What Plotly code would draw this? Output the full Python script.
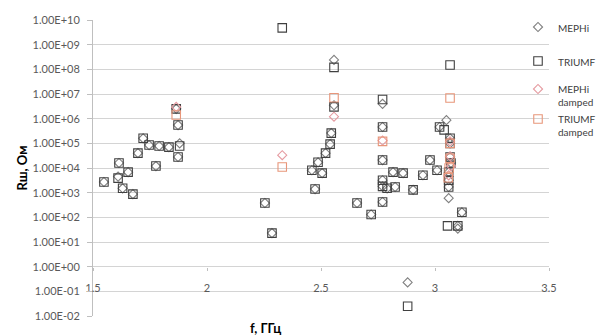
import plotly.graph_objects as go

# ---- data (f in GHz, R in Ohm) ----
mephi_f = [1.548, 1.61, 1.614, 1.63, 1.654, 1.675, 1.697, 1.72, 1.746, 1.776, 1.79, 1.833, 1.88, 1.873, 1.873, 1.865,
           2.254, 2.285, 2.46, 2.474, 2.487, 2.505, 2.52, 2.54, 2.545, 2.557, 2.557, 2.658, 2.72,
           2.77, 2.77, 2.77, 2.77, 2.77, 2.77, 2.79, 2.816, 2.825, 2.86, 2.88, 2.904, 2.947, 2.978, 3.009,
           3.02, 3.05, 3.066, 3.066, 3.066, 3.07, 3.06, 3.06, 3.06, 3.06, 3.1, 3.1, 3.118]
mephi_r = [2.7e3, 4.5e3, 1.6e4, 1.5e3, 6.8e3, 8.7e2, 4e4, 1.6e5, 8.5e4, 1.2e4, 7.8e4, 7e4, 1e5, 2.8e4, 5.5e5, 2.5e6,
           3.8e2, 2.3e1, 8.1e3, 1.4e3, 1.7e4, 6.2e3, 4e4, 9.3e4, 2.6e5, 2.4e8, 3.5e6, 3.8e2, 1.3e2,
           4e6, 4.6e5, 2.1e4, 3.2e3, 1.8e3, 4.2e2, 1.5e3, 6.8e3, 1.7e3, 6.2e3, 0.23, 1.3e3, 5.1e3, 2.1e4, 8.1e3,
           4.6e5, 8.7e5, 1.6e5, 1e5, 2.8e4, 1.6e4, 6.8e3, 3.2e3, 1.7e3, 6e2, 4.5e1, 3.5e1, 1.6e2]

triumf_f = [1.548, 1.61, 1.614, 1.63, 1.654, 1.675, 1.697, 1.72, 1.746, 1.776, 1.79, 1.833, 1.88, 1.873, 1.873, 1.865,
            2.254, 2.285, 2.33, 2.46, 2.474, 2.487, 2.505, 2.52, 2.54, 2.545, 2.557, 2.557, 2.658, 2.72,
            2.77, 2.77, 2.77, 2.77, 2.77, 2.77, 2.79, 2.816, 2.825, 2.86, 2.88, 2.904, 2.947, 2.978, 3.009,
            3.02, 3.04, 3.066, 3.066, 3.066, 3.066, 3.07, 3.06, 3.06, 3.06, 3.055, 3.1, 3.118]
triumf_r = [2.7e3, 3.9e3, 1.6e4, 1.5e3, 6.8e3, 8.7e2, 4e4, 1.6e5, 8.5e4, 1.2e4, 7.8e4, 7e4, 7.8e4, 2.8e4, 5.5e5, 2.5e6,
            3.8e2, 2.3e1, 4.8e9, 8.1e3, 1.4e3, 1.7e4, 6.2e3, 4e4, 9.3e4, 2.6e5, 1.2e8, 3e6, 3.8e2, 1.3e2,
            6e6, 4.6e5, 2.1e4, 3.2e3, 1.8e3, 4.2e2, 1.5e3, 6.8e3, 1.7e3, 6.2e3, 0.025, 1.3e3, 5.1e3, 2.1e4, 8.1e3,
            4.6e5, 3.5e5, 1.5e8, 1.6e5, 1e5, 2.8e4, 1.6e4, 6.8e3, 3.2e3, 1.7e3, 4.5e1, 4.5e1, 1.6e2]

mephi_damped_f = [1.865, 2.33, 2.557, 2.77, 3.066, 3.066, 3.07, 3.06]
mephi_damped_r = [3e6, 3.3e4, 1.2e6, 1.3e5, 1.2e5, 3e4, 1.2e4, 5e3]

triumf_damped_f = [1.865, 2.33, 2.557, 2.77, 3.066, 3.066, 3.066, 3.062, 3.058]
triumf_damped_r = [1.4e6, 1.1e4, 7e6, 1.2e5, 6.9e6, 1e5, 2.5e4, 1e4, 4e3]

x_ticks = [1.5, 2, 2.5, 3, 3.5]
x_ticktext = ["1.5", "2", "2.5", "3", "3.5"]
y_exps = list(range(-2, 11))
y_ticktext = [("1.00E-%02d" % (-e)) if e < 0 else ("1.00E+%02d" % e) for e in y_exps]

FONT = "Lato, 'Open Sans', sans-serif"
W, H = 601, 336

fig = go.Figure()
fig.add_trace(go.Scatter(x=mephi_f, y=mephi_r, mode="markers", name="MEPHi", legend="legend",
                         marker=dict(symbol="diamond-open", size=7, color="#808080", line=dict(width=1.1))))
fig.add_trace(go.Scatter(x=triumf_f, y=triumf_r, mode="markers", name="TRIUMF", legend="legend2",
                         marker=dict(symbol="square-open", size=8.5, color="#404040", line=dict(width=1.1))))
fig.add_trace(go.Scatter(x=mephi_damped_f, y=mephi_damped_r, mode="markers", name="MEPHi<br>damped", legend="legend3",
                         marker=dict(symbol="diamond-open", size=7, color="#e59aa0", line=dict(width=1.1))))
fig.add_trace(go.Scatter(x=triumf_damped_f, y=triumf_damped_r, mode="markers", name="TRIUMF<br>damped", legend="legend4",
                         marker=dict(symbol="square-open", size=8.5, color="#e8967a", line=dict(width=1.1))))


def leg(ytop):
    return dict(xref="container", yref="container", x=518 / W, y=1 - ytop / H,
                xanchor="left", yanchor="top", valign="top",
                font=dict(size=10, color="#404040", family=FONT),
                itemwidth=30, bgcolor="rgba(0,0,0,0)", borderwidth=0)


fig.update_layout(
    width=W, height=H,
    margin=dict(l=93, r=52, t=20, b=20, autoexpand=False),
    paper_bgcolor="white", plot_bgcolor="white",
    font=dict(family=FONT, size=11, color="#404040"),
    showlegend=True,
    legend=leg(14), legend2=leg(48), legend3=leg(76), legend4=leg(106),
    xaxis=dict(range=[1.5, 3.5], tickvals=x_ticks, ticktext=x_ticktext, showgrid=False,
               zeroline=False, anchor="free", position=2/12, showline=False, automargin=False,
               ticks="outside", ticklen=3, tickcolor="#bfbfbf", ticklabelstandoff=8,
               tickfont=dict(size=11, color="#595959")),
    yaxis=dict(type="log", range=[-2, 10], tickvals=[10 ** e for e in y_exps], ticktext=y_ticktext,
               showgrid=True, gridcolor="#d4d4d4", gridwidth=1.3, zeroline=False, automargin=False,
               showline=True, linecolor="#bfbfbf", ticks="outside", ticklen=5, tickcolor="#bfbfbf",
               ticklabelstandoff=5, tickfont=dict(size=11, color="#595959"),
               title=dict(text="<b>Rш, Ом</b>", font=dict(size=13, color="#000000"), standoff=2)),
)
fig.add_annotation(text="<b>f, ГГц</b>", xref="paper", yref="paper", x=(265 - 93) / 456, y=-(328 - 316) / 296,
                   xanchor="center", yanchor="middle", showarrow=False,
                   font=dict(size=13, color="#000000", family=FONT))

fig.write_html("out.html", config={"displayModeBar": False},
               post_script="document.body.style.margin='0';")
